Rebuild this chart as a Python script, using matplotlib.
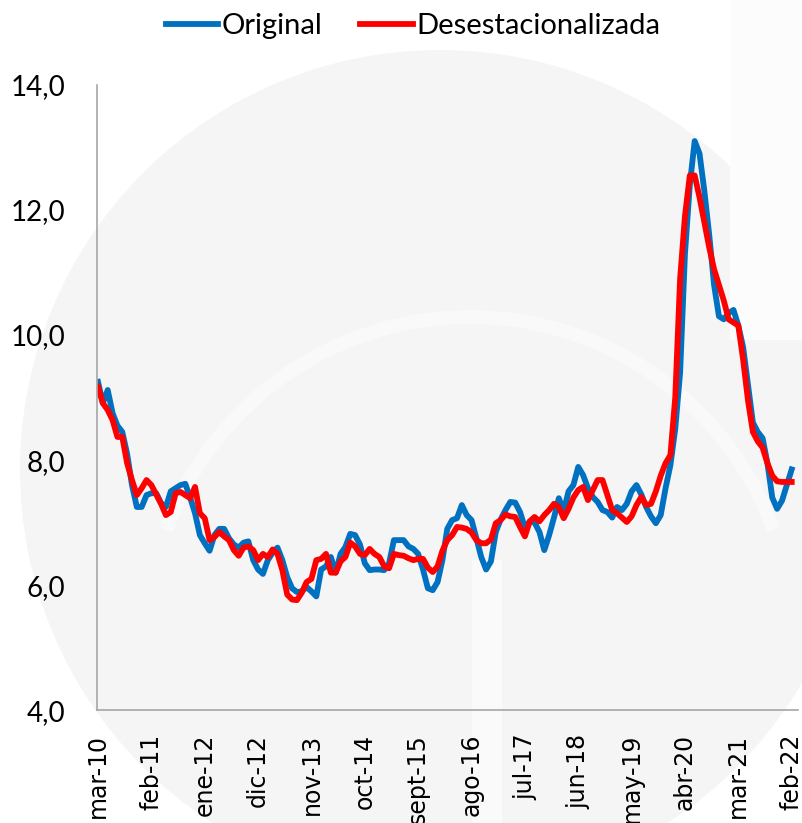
import matplotlib
matplotlib.use("Agg")
import matplotlib.pyplot as plt
from matplotlib.patches import Circle, Rectangle, Wedge
import numpy as np

# Tasa original y desestacionalizada, mensual mar-10 .. feb-22
tick_labels = ["mar-10", "feb-11", "ene-12", "dic-12", "nov-13", "oct-14", "sept-15",
               "ago-16", "jul-17", "jun-18", "may-19", "abr-20", "mar-21", "feb-22"]

original = [
    9.25, 8.91, 9.12, 8.75, 8.55, 8.45, 8.10, 7.60, 7.25, 7.25,
    7.44, 7.47, 7.47, 7.31, 7.25, 7.50, 7.55, 7.60, 7.62, 7.40,
    7.15, 6.80, 6.67, 6.55, 6.80, 6.90, 6.90, 6.75, 6.65, 6.60,
    6.68, 6.70, 6.40, 6.25, 6.18, 6.40, 6.52, 6.60, 6.40, 6.13,
    5.95, 5.89, 5.90, 5.97, 5.90, 5.82, 6.25, 6.30, 6.45, 6.20,
    6.50, 6.61, 6.82, 6.80, 6.65, 6.35, 6.24, 6.25, 6.25, 6.24,
    6.35, 6.72, 6.72, 6.72, 6.62, 6.58, 6.50, 6.25, 5.95, 5.92,
    6.05, 6.40, 6.90, 7.04, 7.07, 7.28, 7.12, 7.04, 6.75, 6.45,
    6.25, 6.38, 6.85, 7.05, 7.20, 7.33, 7.32, 7.17, 6.92, 7.02,
    7.00, 6.85, 6.56, 6.80, 7.08, 7.39, 7.18, 7.50, 7.60, 7.89,
    7.76, 7.55, 7.41, 7.33, 7.20, 7.17, 7.08, 7.25, 7.20, 7.30,
    7.50, 7.60, 7.45, 7.25, 7.10, 6.99, 7.12, 7.55, 7.92, 8.50,
    9.40, 11.30, 12.40, 13.10, 12.90, 12.30, 11.60, 10.80, 10.30, 10.25,
    10.35, 10.40, 10.15, 9.80, 9.20, 8.60, 8.45, 8.35, 7.95, 7.40,
    7.22, 7.35, 7.60, 7.85,
]

desestacionalizada = [
    9.17, 8.91, 8.80, 8.64, 8.37, 8.37, 7.95, 7.68, 7.44, 7.55,
    7.68, 7.60, 7.45, 7.30, 7.12, 7.17, 7.47, 7.49, 7.44, 7.39,
    7.57, 7.15, 7.07, 6.72, 6.77, 6.85, 6.78, 6.72, 6.56, 6.47,
    6.60, 6.62, 6.56, 6.40, 6.50, 6.45, 6.57, 6.50, 6.24, 5.85,
    5.77, 5.76, 5.88, 6.05, 6.10, 6.40, 6.42, 6.50, 6.20, 6.20,
    6.38, 6.45, 6.68, 6.62, 6.50, 6.48, 6.58, 6.50, 6.45, 6.30,
    6.27, 6.50, 6.48, 6.47, 6.43, 6.40, 6.42, 6.42, 6.28, 6.21,
    6.30, 6.55, 6.72, 6.80, 6.93, 6.92, 6.90, 6.84, 6.72, 6.67,
    6.67, 6.73, 6.99, 7.04, 7.13, 7.10, 7.09, 6.93, 6.78, 7.02,
    7.09, 7.02, 7.12, 7.20, 7.30, 7.25, 7.07, 7.22, 7.40, 7.52,
    7.57, 7.36, 7.52, 7.68, 7.68, 7.44, 7.20, 7.15, 7.08, 7.01,
    7.10, 7.28, 7.41, 7.28, 7.30, 7.50, 7.75, 7.95, 8.08, 9.00,
    10.90, 11.90, 12.55, 12.55, 12.20, 11.80, 11.40, 11.05, 10.80, 10.55,
    10.25, 10.20, 10.15, 9.60, 8.95, 8.45, 8.30, 8.20, 7.95, 7.75,
    7.66, 7.65, 7.65, 7.65,
]

x = np.arange(len(original))

fig = plt.figure(figsize=(8.02, 8.23), dpi=100)

# faint watermark behind the chart (figure pixel coords)
W, H = 802, 823
bg = fig.add_axes([0, 0, 1, 1], zorder=0)
bg.set_xlim(0, W)
bg.set_ylim(H, 0)
bg.axis("off")
bg.add_patch(Circle((440, 470), 420, color="#f5f5f5", lw=0))
bg.add_patch(Wedge((470, 640), 330, 200, 340, width=14, color="#f9f9f9", lw=0))
bg.add_patch(Rectangle((730, 0), 72, 340, color="#fcfcfc", lw=0))
bg.add_patch(Rectangle((472, 560), 30, 263, color="#fafafa", lw=0))

ax = fig.add_axes([0.121, 0.137, 0.874, 0.760], zorder=1)
ax.patch.set_alpha(0)

ax.plot(x, original, color="#0070C0", lw=4.2, label="Original", solid_joinstyle="round")
ax.plot(x, desestacionalizada, color="#FF0000", lw=4.2, label="Desestacionalizada",
        solid_joinstyle="round")

ax.set_ylim(4, 14)
ax.set_yticks(np.arange(4, 14.1, 2))
ax.set_yticklabels([f"{v:.1f}".replace(".", ",") for v in np.arange(4, 14.1, 2)],
                   family="Lato", fontsize=20)
ax.set_xlim(-0.2, 144.3)
ax.set_xticks(np.arange(0, 144, 11))
ax.set_xticklabels(tick_labels, rotation=90, fontsize=17)
ax.tick_params(axis="x", length=0, pad=17)
ax.tick_params(axis="y", length=0, pad=23)

for side in ["top", "right"]:
    ax.spines[side].set_visible(False)
for side in ["left", "bottom"]:
    ax.spines[side].set_color("#a6a6a6")
    ax.spines[side].set_linewidth(1.2)

fig.legend(loc="upper center", bbox_to_anchor=(0.515, 1.016), ncol=2, frameon=False,
           prop={"family": "Lato", "size": 21}, handlelength=1.8, handletextpad=0.12,
           columnspacing=1.3)

fig.savefig("out.png", dpi=100)
